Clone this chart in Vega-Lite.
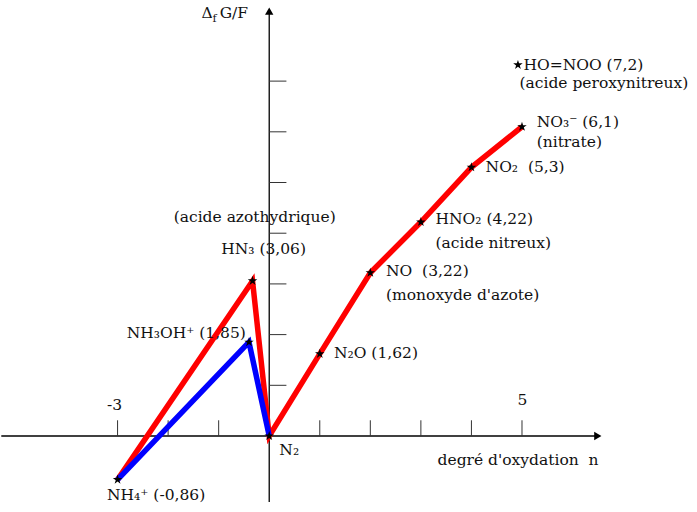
{
  "$schema": "https://vega.github.io/schema/vega-lite/v6.json",
  "width": 697,
  "height": 512,
  "autosize": {"type": "fit", "contains": "padding"},
  "padding": 0,
  "background": "white",
  "config": {"view": {"stroke": null}},
  "datasets": {
    "species": [
      {"name": "NH4+", "n": -3, "g": -0.86},
      {"name": "NH3OH+", "n": -0.4, "g": 1.85},
      {"name": "HN3", "n": -0.33, "g": 3.06},
      {"name": "N2", "n": 0, "g": 0},
      {"name": "N2O", "n": 1, "g": 1.62},
      {"name": "NO", "n": 2, "g": 3.22},
      {"name": "HNO2", "n": 3, "g": 4.22},
      {"name": "NO2", "n": 4, "g": 5.3},
      {"name": "NO3-", "n": 5, "g": 6.1},
      {"name": "HO=NOO", "n": 4.92, "g": 7.32}
    ],
    "path": [
      {"series": "red", "order": 1, "n": -3, "g": -0.86},
      {"series": "red", "order": 2, "n": -0.33, "g": 3.06},
      {"series": "red", "order": 3, "n": 0, "g": 0},
      {"series": "red", "order": 4, "n": 1, "g": 1.62},
      {"series": "red", "order": 5, "n": 2, "g": 3.22},
      {"series": "red", "order": 6, "n": 3, "g": 4.22},
      {"series": "red", "order": 7, "n": 4, "g": 5.3},
      {"series": "red", "order": 8, "n": 5, "g": 6.1},
      {"series": "blue", "order": 1, "n": -3, "g": -0.86},
      {"series": "blue", "order": 2, "n": -0.4, "g": 1.85},
      {"series": "blue", "order": 3, "n": 0, "g": 0}
    ],
    "labels": [
      {"text": "HO=NOO (7,2)", "lx": 5.03, "ly": 7.32},
      {"text": "(acide peroxynitreux)", "lx": 4.95, "ly": 6.96},
      {"text": "NO₃⁻ (6,1)", "lx": 5.29, "ly": 6.19},
      {"text": "(nitrate)", "lx": 5.29, "ly": 5.8},
      {"text": "NO₂\u00a0 (5,3)", "lx": 4.28, "ly": 5.31},
      {"text": "HNO₂ (4,22)", "lx": 3.29, "ly": 4.28},
      {"text": "(acide nitreux)", "lx": 3.29, "ly": 3.81},
      {"text": "NO\u00a0 (3,22)", "lx": 2.31, "ly": 3.25},
      {"text": "(monoxyde d'azote)", "lx": 2.31, "ly": 2.78},
      {"text": "N₂O (1,62)", "lx": 1.28, "ly": 1.64},
      {"text": "N₂", "lx": 0.2, "ly": -0.28},
      {"text": "NH₄⁺ (-0,86)", "lx": -3.21, "ly": -1.16},
      {"text": "NH₃OH⁺ (1,85)", "lx": -2.82, "ly": 2.03},
      {"text": "HN₃ (3,06)", "lx": -0.95, "ly": 3.69},
      {"text": "(acide azothydrique)", "lx": -1.89, "ly": 4.32},
      {"text": "-3", "lx": -3.21, "ly": 0.61},
      {"text": "5", "lx": 4.91, "ly": 0.71},
      {"text": "degré d'oxydation\u00a0 n", "lx": 3.33, "ly": -0.47},
      {"text": "Δ", "lx": -1.34, "ly": 8.34},
      {"text": "G/F", "lx": -0.98, "ly": 8.34}
    ],
    "sublabels": [
      {"text": "f", "lx": -1.12, "ly": 8.22}
    ],
    "axes": [
      {"x1": -5.3, "x2": 6.5, "y1": 0, "y2": 0},
      {"x1": 0, "x2": 0, "y1": -1.3, "y2": 8.35}
    ],
    "arrows": [
      {"ax": 6.5, "ay": 0, "dir": "right"},
      {"ax": 0, "ay": 8.38, "dir": "up"}
    ],
    "yticks": [{"v": 1}, {"v": 2}, {"v": 3}, {"v": 4}, {"v": 5}, {"v": 6}, {"v": 7}],
    "xticks": [{"v": -3}, {"v": -2}, {"v": -1}, {"v": 1}, {"v": 2}, {"v": 3}, {"v": 4}, {"v": 5}]
  },
  "layer": [
    {
      "data": {"name": "axes"},
      "mark": {"type": "rule", "color": "black", "strokeWidth": 1.3},
      "encoding": {
        "x": {"field": "x1", "type": "quantitative", "scale": {"domain": [-5.286, 8.462], "nice": false, "zero": false}, "axis": null},
        "x2": {"field": "x2"},
        "y": {"field": "y1", "type": "quantitative", "scale": {"domain": [-1.499, 8.6], "nice": false, "zero": false}, "axis": null},
        "y2": {"field": "y2"}
      }
    },
    {
      "data": {"name": "yticks"},
      "mark": {"type": "rule", "color": "#333", "strokeWidth": 1},
      "encoding": {
        "x": {"datum": 0, "type": "quantitative"},
        "x2": {"datum": 0.34},
        "y": {"field": "v", "type": "quantitative"}
      }
    },
    {
      "data": {"name": "xticks"},
      "mark": {"type": "rule", "color": "#333", "strokeWidth": 1},
      "encoding": {
        "x": {"field": "v", "type": "quantitative"},
        "y": {"datum": 0, "type": "quantitative"},
        "y2": {"datum": 0.31}
      }
    },
    {
      "data": {"name": "arrows"},
      "transform": [{"filter": "datum.dir == 'right'"}],
      "mark": {"type": "point", "shape": "triangle-right", "filled": true, "color": "black", "size": 70, "opacity": 1},
      "encoding": {
        "x": {"field": "ax", "type": "quantitative"},
        "y": {"field": "ay", "type": "quantitative"}
      }
    },
    {
      "data": {"name": "arrows"},
      "transform": [{"filter": "datum.dir == 'up'"}],
      "mark": {"type": "point", "shape": "triangle-up", "filled": true, "color": "black", "size": 70, "opacity": 1},
      "encoding": {
        "x": {"field": "ax", "type": "quantitative"},
        "y": {"field": "ay", "type": "quantitative"}
      }
    },
    {
      "data": {"name": "path"},
      "transform": [{"filter": "datum.series == 'red'"}],
      "mark": {"type": "line", "color": "#ff0000", "strokeWidth": 5.5, "strokeJoin": "miter"},
      "encoding": {
        "x": {"field": "n", "type": "quantitative"},
        "y": {"field": "g", "type": "quantitative"},
        "order": {"field": "order", "type": "quantitative"}
      }
    },
    {
      "data": {"name": "path"},
      "transform": [{"filter": "datum.series == 'blue'"}],
      "mark": {"type": "line", "color": "#0000ff", "strokeWidth": 5.5, "strokeJoin": "miter"},
      "encoding": {
        "x": {"field": "n", "type": "quantitative"},
        "y": {"field": "g", "type": "quantitative"},
        "order": {"field": "order", "type": "quantitative"}
      }
    },
    {
      "data": {"name": "species"},
      "mark": {"type": "point", "shape": "M0,-1L0.2245,-0.309L0.951,-0.309L0.363,0.118L0.588,0.809L0,0.382L-0.588,0.809L-0.363,0.118L-0.951,-0.309L-0.2245,-0.309Z", "filled": true, "color": "black", "size": 100, "opacity": 1},
      "encoding": {
        "x": {"field": "n", "type": "quantitative"},
        "y": {"field": "g", "type": "quantitative"}
      }
    },
    {
      "data": {"name": "labels"},
      "mark": {"type": "text", "font": "DejaVu Serif", "fontSize": 15.5, "align": "left", "baseline": "middle", "color": "#111"},
      "encoding": {
        "x": {"field": "lx", "type": "quantitative"},
        "y": {"field": "ly", "type": "quantitative"},
        "text": {"field": "text"}
      }
    },
    {
      "data": {"name": "sublabels"},
      "mark": {"type": "text", "font": "DejaVu Serif", "fontSize": 11, "align": "left", "baseline": "middle", "color": "#111"},
      "encoding": {
        "x": {"field": "lx", "type": "quantitative"},
        "y": {"field": "ly", "type": "quantitative"},
        "text": {"field": "text"}
      }
    }
  ]
}
